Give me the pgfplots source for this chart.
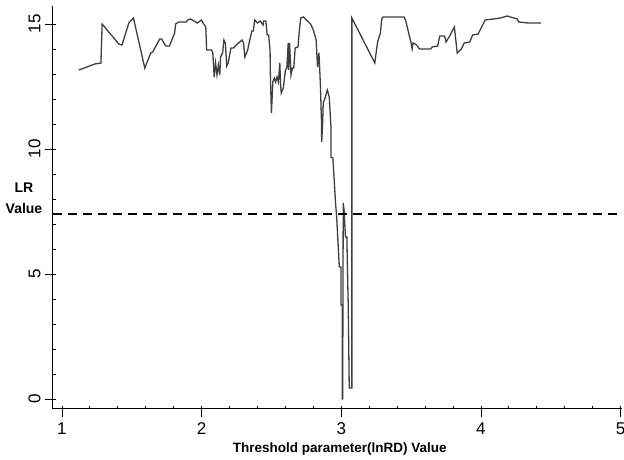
\documentclass[border=0pt]{standalone}
\usepackage{pgfplots}
\pgfplotsset{compat=1.18}
\usepackage{fontspec}
\setmainfont{Liberation Sans}

\definecolor{lrline}{RGB}{62,62,62}

\begin{document}
\begin{tikzpicture}
\begin{axis}[
    name=ax,
    scale only axis,
    width=569pt, height=403pt,
    xmin=0.936, xmax=5.01,
    ymin=-0.4, ymax=15.72,
    axis x line=bottom, axis y line=left,
    axis line style={-, black, line width=1pt},
    xtick={1,2,3,4,5},
    ytick={0,5,10,15},
    minor x tick num=4, minor y tick num=4,
    tick align=inside,
    major tick length=11pt, minor tick length=3pt,
    major x tick style={yshift=-8pt},
    major y tick style={xshift=-8pt},
    every tick/.append style={black, line width=0.8pt},
    ticklabel style={font=\fontsize{17}{17}\selectfont},
    xticklabel style={yshift=-10pt},
    yticklabel style={rotate=90, anchor=south, yshift=9pt},
    /pgf/number format/assume math mode=true,
    xlabel={Threshold parameter(lnRD) Value},
    xlabel style={font=\bfseries\fontsize{13.5}{13.5}\selectfont,
        at={(axis description cs:0.504,-0.1)}, anchor=center},
    ylabel={LR\\[7pt]Value},
    ylabel style={font=\bfseries\fontsize{14}{14}\selectfont, align=center,
        rotate=-90, at={(axis description cs:-0.051,0.522)}, anchor=center},
]

\addplot[lrline, line width=1.3pt, sharp plot, mark=none]
    coordinates {
    (1.121,13.16)(1.236,13.40)(1.279,13.44)(1.288,15.00)(1.407,14.20)
    (1.430,14.16)(1.479,15.04)(1.512,15.24)(1.593,13.24)(1.636,13.84)
    (1.650,13.88)(1.700,14.40)(1.714,14.40)(1.743,14.12)(1.770,14.12)
    (1.807,14.64)(1.814,15.00)(1.836,15.08)(1.890,15.08)(1.900,15.16)
    (1.920,15.20)(1.970,15.04)(2.000,15.16)(2.010,15.04)(2.030,14.88)
    (2.036,13.96)(2.070,13.96)(2.080,13.88)(2.090,12.88)(2.100,13.44)
    (2.110,12.96)(2.120,13.36)(2.130,12.96)(2.136,13.68)(2.150,13.84)
    (2.160,14.36)(2.170,14.24)(2.180,13.32)(2.190,13.44)(2.210,14.04)
    (2.230,14.04)(2.240,14.12)(2.290,14.36)(2.300,14.24)(2.310,13.68)
    (2.330,13.96)(2.340,14.24)(2.360,14.72)(2.370,14.72)(2.380,15.16)
    (2.400,15.04)(2.420,15.12)(2.440,14.96)(2.445,15.12)(2.460,15.12)
    (2.470,14.56)(2.480,14.56)(2.490,13.96)(2.493,12.76)(2.500,11.44)
    (2.510,12.68)(2.520,12.84)(2.530,12.68)(2.540,12.88)(2.550,12.68)
    (2.560,13.44)(2.565,12.64)(2.570,12.24)(2.585,12.44)(2.600,13.16)
    (2.610,13.24)(2.620,14.24)(2.623,13.16)(2.630,14.24)(2.640,12.96)
    (2.650,13.24)(2.660,13.24)(2.670,14.04)(2.690,14.08)(2.700,14.76)
    (2.710,15.24)(2.730,15.28)(2.750,15.16)(2.780,15.00)(2.800,14.76)
    (2.820,14.36)(2.830,13.28)(2.840,13.84)(2.846,13.16)(2.851,12.48)
    (2.858,11.16)(2.860,10.28)(2.866,10.96)(2.871,11.84)(2.886,12.08)
    (2.900,12.36)(2.914,12.08)(2.926,10.88)(2.926,9.68)(2.940,9.64)
    (2.959,7.84)(2.967,7.28)(2.986,5.28)(2.998,5.28)(2.998,3.76)
    (3.007,3.76)(3.007,0.00)(3.010,0.00)(3.014,7.84)(3.020,7.56)
    (3.030,6.48)(3.040,6.48)(3.045,5.04)(3.050,3.68)(3.057,0.44)
    (3.076,0.44)(3.076,15.24)(3.240,13.44)(3.260,14.28)(3.280,14.64)
    (3.290,15.20)(3.300,15.28)(3.450,15.28)(3.460,15.16)(3.500,14.24)
    (3.507,14.00)(3.514,14.24)(3.540,14.16)(3.560,14.00)(3.640,14.00)
    (3.650,14.08)(3.690,14.12)(3.705,14.52)(3.740,14.52)(3.750,14.28)
    (3.780,14.56)(3.810,14.88)(3.830,13.84)(3.860,14.00)(3.880,14.24)
    (3.920,14.28)(3.940,14.56)(3.980,14.60)(4.030,15.16)(4.090,15.20)
    (4.140,15.24)(4.190,15.32)(4.210,15.28)(4.260,15.20)(4.270,15.08)
    (4.340,15.04)(4.430,15.04)
    };

\addplot[black, line width=1.2pt, dash pattern=on 9pt off 6pt, mark=none]
    coordinates {(0.936,7.4)(5.01,7.4)};

\end{axis}
% page box with the reference's margins around the axis
\pgfresetboundingbox
\path ([xshift=-53pt,yshift=-51pt]ax.south west)
    rectangle ([xshift=2pt,yshift=6pt]ax.north east);
\end{tikzpicture}
\end{document}
